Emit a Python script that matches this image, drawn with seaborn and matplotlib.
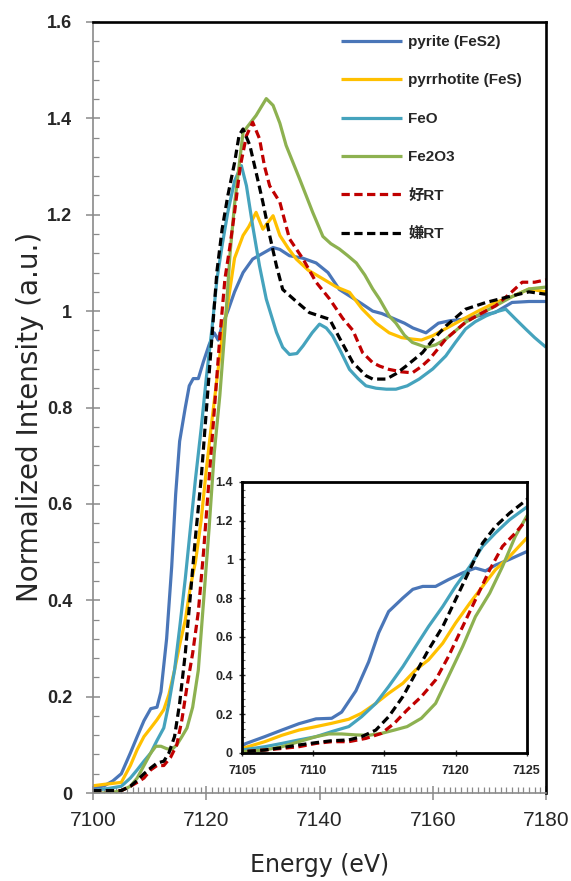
import matplotlib
matplotlib.use("Agg")
import matplotlib.pyplot as plt
from matplotlib.ticker import MultipleLocator, FuncFormatter
from matplotlib.font_manager import FontProperties
import seaborn as sns

# ---------------- data ----------------
labels = ["pyrite (FeS2)", "pyrrhotite (FeS)", "FeO", "Fe2O3", "好RT", "嫌RT"]

pyrite_e = [7100, 7102, 7103.5, 7105, 7106.6, 7107.8, 7109, 7110.2, 7111.3, 7112, 7113, 7113.9,
            7114.6, 7115.3, 7116.3, 7117, 7117.7, 7118.6, 7119.5, 7120.5, 7121.4, 7122.1, 7122.8,
            7123.8, 7125, 7126.5, 7128.2, 7130, 7131.8, 7133, 7134.7, 7137, 7139.4, 7141.5,
            7143.5, 7145.5, 7147.5, 7149.4, 7151, 7153, 7155, 7156.5, 7158.8, 7161, 7163,
            7165.3, 7168, 7171, 7174, 7177, 7180]
pyrite_i = [0.01, 0.015, 0.025, 0.04, 0.083, 0.117, 0.15, 0.175, 0.178, 0.21, 0.32, 0.47,
            0.62, 0.73, 0.80, 0.845, 0.86, 0.86, 0.895, 0.93, 0.955, 0.94, 0.97,
            1.0, 1.04, 1.08, 1.108, 1.12, 1.132, 1.128, 1.115, 1.11, 1.10, 1.08,
            1.045, 1.03, 1.015, 1.0, 0.995, 0.985, 0.975, 0.965, 0.955, 0.975, 0.98,
            0.983, 0.99, 0.997, 1.018, 1.02, 1.02]

pyrrhotite_e = [7100, 7102, 7103.5, 7105, 7106.6, 7107.8, 7109, 7110.2, 7111.3, 7112.5, 7113.4,
                7114.4, 7115.3, 7116.3, 7117.2, 7118.1, 7119.1, 7120, 7121, 7121.9, 7122.8,
                7123.8, 7125, 7126.5, 7127.5, 7128.8, 7130, 7131.8, 7133, 7134.5, 7135.9, 7138,
                7140.6, 7143, 7145.3, 7147.5, 7150, 7152.3, 7154.5, 7156.4, 7158, 7160, 7162.5,
                7165.3, 7168, 7171.1, 7174, 7177, 7180]
pyrrhotite_i = [0.015, 0.018, 0.02, 0.022, 0.057, 0.09, 0.117, 0.135, 0.152, 0.173, 0.204,
                0.255, 0.307, 0.359, 0.428, 0.48, 0.566, 0.67, 0.773, 0.86, 0.946,
                1.015, 1.11, 1.157, 1.175, 1.205, 1.17, 1.198, 1.157, 1.13, 1.108, 1.085,
                1.067, 1.05, 1.039, 1.005, 0.975, 0.955, 0.945, 0.942, 0.94, 0.949, 0.965,
                0.983, 1.0, 1.018, 1.03, 1.046, 1.04]

feo_e = [7100, 7103, 7105, 7106.6, 7107.8, 7109, 7110.2, 7111.3, 7112.5, 7113.4, 7114.4, 7115.3,
         7116.3, 7117.2, 7118.1, 7119.1, 7120, 7121, 7121.9, 7122.8, 7123.8, 7125, 7126.2, 7127.1,
         7128.2, 7129.4, 7130.6, 7132.4, 7133.5, 7134.7, 7136, 7137.1, 7138.7, 7140, 7141.2,
         7142.3, 7143.8, 7145.3, 7146.8, 7148.2, 7150, 7151.8, 7153.5, 7155.5, 7157.6, 7160,
         7162.3, 7164, 7165.8, 7167.5, 7169.4, 7171, 7172.9, 7174.5, 7176.4, 7178, 7180]
feo_i = [0.005, 0.01, 0.014, 0.031, 0.048, 0.066, 0.083, 0.109, 0.135, 0.186, 0.255, 0.342,
         0.445, 0.549, 0.652, 0.756, 0.86, 0.963, 1.067, 1.136, 1.205, 1.27, 1.302, 1.26,
         1.177, 1.094, 1.025, 0.956, 0.925, 0.91, 0.912, 0.928, 0.955, 0.973, 0.965,
         0.949, 0.915, 0.879, 0.86, 0.845, 0.84, 0.838, 0.838, 0.845, 0.859, 0.88,
         0.907, 0.935, 0.963, 0.978, 0.99, 0.998, 1.004, 0.985, 0.963, 0.945, 0.925]

fe2o3_e = [7100, 7103, 7105, 7106.6, 7107.8, 7109, 7110.2, 7111.1, 7112, 7113, 7113.9, 7114.8,
           7115.7, 7116.6, 7117.6, 7118.6, 7119.5, 7120.5, 7121.4, 7122.4, 7123.3, 7124.2, 7125,
           7126.5, 7128.8, 7130.6, 7131.8, 7133, 7134.1, 7136.5, 7138.8, 7140.6, 7142, 7143.5,
           7145, 7146.5, 7148, 7149.4, 7150.6, 7152.3, 7153.5, 7155, 7156.4, 7158.8, 7160.5,
           7162.3, 7165.8, 7168.5, 7171.1, 7174, 7177, 7180]
fe2o3_i = [0.0, 0.0, 0.005, 0.014, 0.031, 0.057, 0.083, 0.097, 0.097, 0.092, 0.09, 0.1,
           0.117, 0.135, 0.178, 0.255, 0.394, 0.549, 0.704, 0.825, 0.963, 1.119, 1.222,
           1.371, 1.406, 1.441, 1.427, 1.39, 1.344, 1.274, 1.205, 1.155, 1.14, 1.129,
           1.115, 1.1, 1.075, 1.046, 1.025, 0.99, 0.975, 0.95, 0.935, 0.925, 0.93,
           0.942, 0.977, 0.995, 1.011, 1.03, 1.046, 1.05]

aer_e = [7100, 7103, 7105, 7106.6, 7107.8, 7109, 7110.2, 7111.3, 7112.5, 7113.7, 7114.8, 7115.7,
         7116.6, 7117.6, 7118.6, 7119.5, 7120.5, 7121.4, 7122.4, 7123.3, 7124.2, 7125, 7126,
         7127.1, 7128.2, 7129.4, 7130.3, 7131.2, 7133, 7134.7, 7137.1, 7139.4, 7141.8, 7144.1,
         7145.9, 7147.6, 7149.4, 7150.6, 7152.3, 7154.5, 7156.4, 7158, 7159.4, 7160.8, 7162.3,
         7165.8, 7168.5, 7171.1, 7173.5, 7175.8, 7178, 7180]
aer_i = [0.005, 0.005, 0.005, 0.014, 0.022, 0.031, 0.048, 0.057, 0.057, 0.074, 0.1, 0.152,
         0.221, 0.29, 0.376, 0.497, 0.652, 0.791, 0.946, 1.067, 1.136, 1.205, 1.3,
         1.364, 1.392, 1.358, 1.30, 1.26, 1.226, 1.15, 1.108, 1.06, 1.025, 0.985,
         0.96, 0.914, 0.893, 0.886, 0.879, 0.874, 0.872, 0.885, 0.90, 0.92, 0.942,
         0.977, 0.995, 1.011, 1.035, 1.06, 1.06, 1.065]

anaer_e = [7100, 7103, 7105, 7106.6, 7107.8, 7109, 7110.2, 7111.3, 7112.5, 7113.4, 7114.4, 7115.3,
           7116.3, 7117.2, 7118.1, 7119.1, 7120, 7121, 7121.9, 7122.8, 7123.8, 7125, 7125.8,
           7126.5, 7127.7, 7128.8, 7130, 7131.2, 7132.4, 7133.5, 7135.9, 7138.2, 7140, 7141.8,
           7143.5, 7145.9, 7146.5, 7148.2, 7149.4, 7151.8, 7153.5, 7155.3, 7158.2, 7160, 7162.3,
           7165.8, 7169.4, 7174.1, 7177, 7180]
anaer_i = [0.005, 0.005, 0.005, 0.014, 0.026, 0.04, 0.052, 0.062, 0.066, 0.083, 0.117, 0.186,
           0.29, 0.411, 0.532, 0.652, 0.791, 0.946, 1.084, 1.17, 1.239, 1.308, 1.365,
           1.378, 1.344, 1.288, 1.226, 1.157, 1.094, 1.045, 1.02, 0.997, 0.99, 0.983,
           0.945, 0.893, 0.886, 0.866, 0.859, 0.859, 0.87, 0.886, 0.914, 0.94, 0.969,
           1.004, 1.018, 1.032, 1.04, 1.035]

x_ticks = [7100, 7120, 7140, 7160, 7180]
y_ticks = [0, 0.2, 0.4, 0.6, 0.8, 1.0, 1.2, 1.4, 1.6]
inset_x_ticks = [7105, 7110, 7115, 7120, 7125]
inset_y_ticks = [0, 0.2, 0.4, 0.6, 0.8, 1.0, 1.2, 1.4]

# ---------------- styling ----------------
sns.set_style("white")
plt.rcParams["font.family"] = ["Liberation Sans", "Noto Sans CJK JP", "DejaVu Sans"]

series = [
    (pyrite_e, pyrite_i, "#4A76B8", "-"),
    (pyrrhotite_e, pyrrhotite_i, "#FFC000", "-"),
    (feo_e, feo_i, "#45A3BD", "-"),
    (fe2o3_e, fe2o3_i, "#8DB150", "-"),
    (aer_e, aer_i, "#C00000", "--"),
    (anaer_e, anaer_i, "#000000", "--"),
]
LW = 2.3
DASH = (2.6, 1.4)

fig = plt.figure(figsize=(5.71, 8.81), dpi=100)
ax = fig.add_axes([93 / 571, 1 - 793 / 881, (546 - 93) / 571, (793 - 22) / 881])
ins = fig.add_axes([242 / 571, 1 - 752.7 / 881, (526.7 - 242) / 571, (752.7 - 482) / 881])

for (e, i, c, ls), lab in zip(series, labels):
    kw = dict(color=c, linewidth=LW)
    if ls == "--":
        kw["dashes"] = DASH
    sns.lineplot(x=e, y=i, ax=ax, label=lab, **kw)
    sns.lineplot(x=e, y=i, ax=ins, legend=False, **kw)
for ln in ax.get_lines() + ins.get_lines():
    ln.set_solid_capstyle("butt")
    ln.set_dash_capstyle("butt")

fmt = FuncFormatter(lambda v, p: f"{v:g}")

# main axes
ax.set_xlim(7100, 7180)
ax.set_ylim(0, 1.6)
ax.set_xticks(x_ticks)
ax.set_yticks(y_ticks)
ax.yaxis.set_major_formatter(fmt)
ax.xaxis.set_minor_locator(MultipleLocator(1))
ax.yaxis.set_minor_locator(MultipleLocator(0.04))
for s in ["left", "bottom"]:
    ax.spines[s].set_color("#8a8a8a")
    ax.spines[s].set_linewidth(1.2)
for s in ["top", "right"]:
    ax.spines[s].set_color("black")
    ax.spines[s].set_linewidth(1.9)
ax.tick_params(axis="both", which="major", direction="inout", length=10, width=1.1,
               color="#8a8a8a", bottom=True, left=True)
ax.tick_params(axis="both", which="minor", direction="in", length=4.5, width=0.9,
               color="#8a8a8a", bottom=True, left=True)
ax.tick_params(axis="y", which="major", pad=10, labelsize=13)
ax.tick_params(axis="x", which="major", pad=8, labelsize=15)
for t in ax.get_yticklabels():
    t.set_fontweight("bold")

ax.set_xlabel("Energy (eV)", fontsize=17, family=["DejaVu Sans"], va="center")
ax.xaxis.set_label_coords(0.5, (793 - 865) / 771)
ax.set_ylabel("Normalized Intensity (a.u.)", fontsize=20, family=["DejaVu Sans"], va="center")
ax.yaxis.set_label_coords((30 - 93) / 453, (793 - 417) / 771)

ax.legend(loc="upper left", bbox_to_anchor=(341 / 571, 1 - 35 / 881),
          bbox_transform=fig.transFigure, frameon=False, borderpad=0,
          borderaxespad=0, handlelength=4.0, handletextpad=0.4, labelspacing=1.6,
          prop=FontProperties(family=["Liberation Sans", "Noto Sans CJK JP"],
                              weight="bold", size=11))

# inset axes
ins.set_xlim(7105, 7125)
ins.set_ylim(0, 1.4)
ins.set_xticks(inset_x_ticks)
ins.set_yticks(inset_y_ticks)
ins.yaxis.set_major_formatter(fmt)
ins.yaxis.set_minor_locator(MultipleLocator(0.04))
ins.set_xlabel("")
ins.set_ylabel("")
for s in ins.spines.values():
    s.set_color("black")
    s.set_linewidth(2.0)
ins.tick_params(axis="both", which="major", direction="inout", length=5, width=1.0,
                color="#333333", labelsize=9, bottom=True, left=True)
ins.tick_params(axis="y", which="minor", direction="in", length=2.5, width=0.8,
                color="#666666", left=True)
ins.tick_params(axis="y", which="major", pad=4)
ins.tick_params(axis="x", which="major", pad=6)
for t in ins.get_xticklabels() + ins.get_yticklabels():
    t.set_fontweight("bold")
ins.set_facecolor("white")

fig.savefig("out.png", dpi=100)
